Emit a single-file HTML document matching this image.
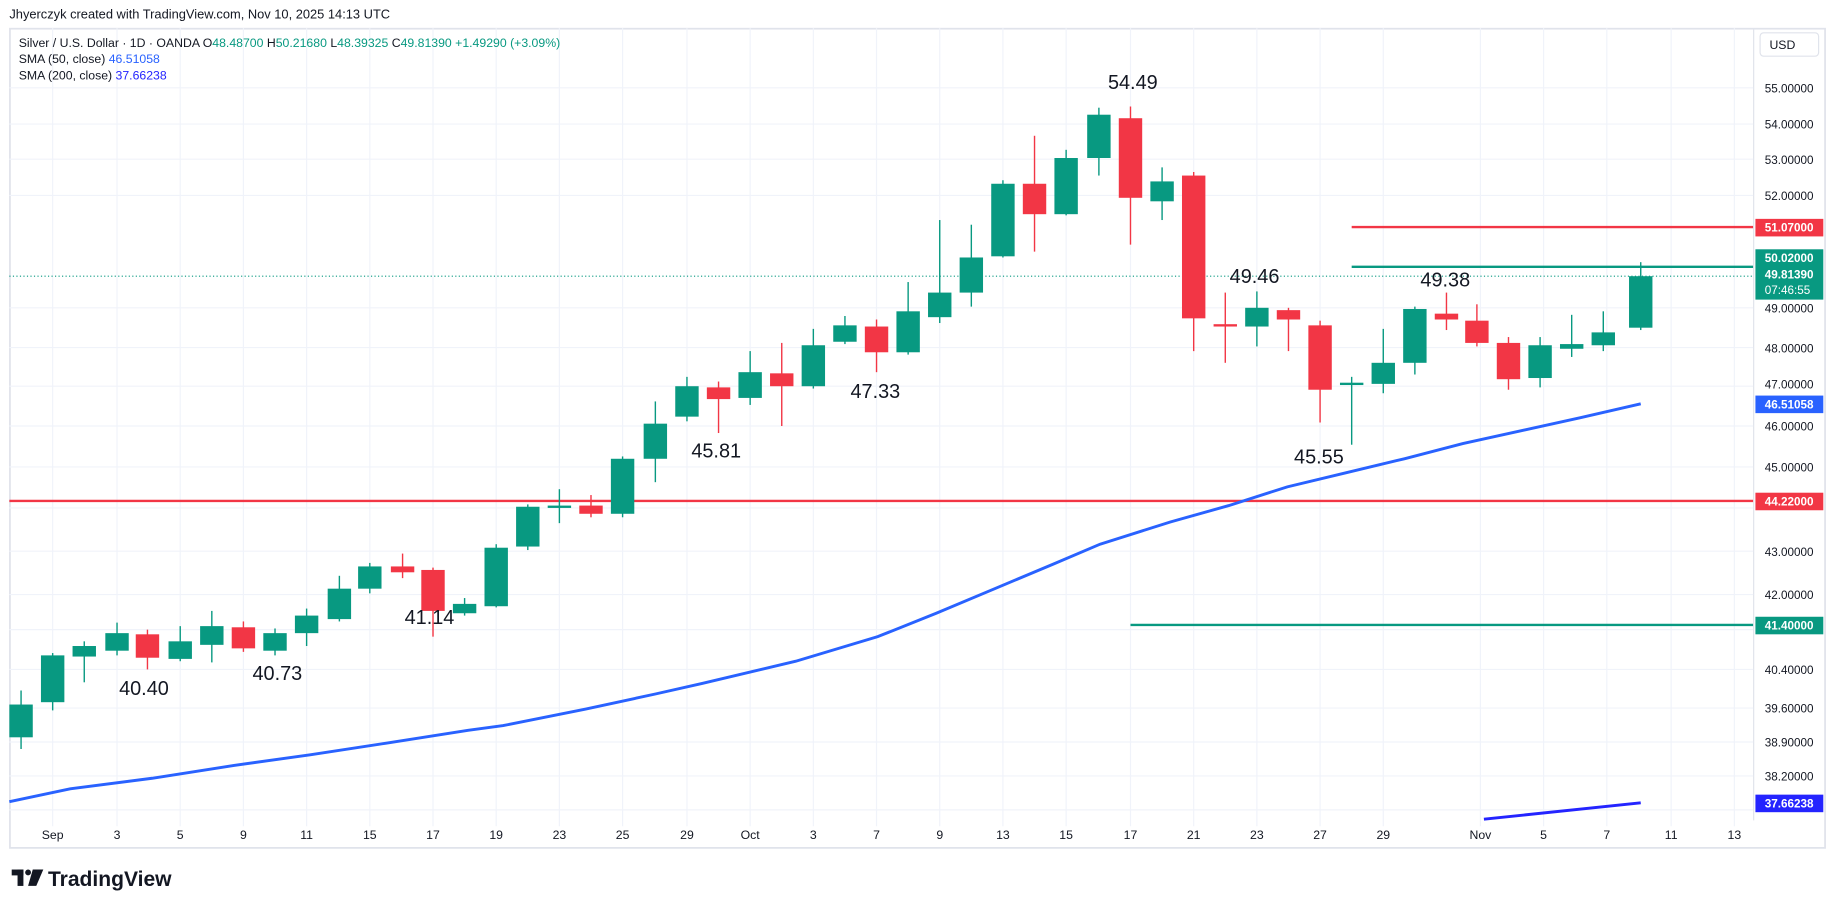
<!DOCTYPE html>
<html><head><meta charset="utf-8"><style>
html,body{margin:0;padding:0;background:#fff;}
svg{display:block;font-family:"Liberation Sans",sans-serif;}
</style></head><body>
<svg width="1835" height="909" viewBox="0 0 1568 776.7" xmlns="http://www.w3.org/2000/svg">
<rect x="0" y="0" width="1568" height="777" fill="#fff"/>
<text x="8" y="16" font-size="11" fill="#131722">Jhyerczyk created with TradingView.com, Nov 10, 2025 14:13 UTC</text>
<rect x="8.5" y="24.5" width="1551" height="700" fill="none" stroke="#e0e3eb" stroke-width="1.5"/>
<line x1="1498.5" y1="24" x2="1498.5" y2="701" stroke="#e0e3eb"/>
<g stroke="#f0f3fa" stroke-width="1">
<line x1="8" x2="1498" y1="75" y2="75"/><line x1="8" x2="1498" y1="106" y2="106"/><line x1="8" x2="1498" y1="136" y2="136"/><line x1="8" x2="1498" y1="167" y2="167"/><line x1="8" x2="1498" y1="263" y2="263"/><line x1="8" x2="1498" y1="297" y2="297"/><line x1="8" x2="1498" y1="330" y2="330"/><line x1="8" x2="1498" y1="364" y2="364"/><line x1="8" x2="1498" y1="399" y2="399"/><line x1="8" x2="1498" y1="434" y2="434"/><line x1="8" x2="1498" y1="471" y2="471"/><line x1="8" x2="1498" y1="508" y2="508"/><line x1="8" x2="1498" y1="538" y2="538"/><line x1="8" x2="1498" y1="572" y2="572"/><line x1="8" x2="1498" y1="605" y2="605"/><line x1="8" x2="1498" y1="634" y2="634"/><line x1="8" x2="1498" y1="663" y2="663"/><line x1="8" x2="1498" y1="692" y2="692"/>
<line x1="45" x2="45" y1="24" y2="706"/><line x1="100" x2="100" y1="24" y2="706"/><line x1="154" x2="154" y1="24" y2="706"/><line x1="208" x2="208" y1="24" y2="706"/><line x1="262" x2="262" y1="24" y2="706"/><line x1="316" x2="316" y1="24" y2="706"/><line x1="370" x2="370" y1="24" y2="706"/><line x1="424" x2="424" y1="24" y2="706"/><line x1="478" x2="478" y1="24" y2="706"/><line x1="532" x2="532" y1="24" y2="706"/><line x1="587" x2="587" y1="24" y2="706"/><line x1="641" x2="641" y1="24" y2="706"/><line x1="695" x2="695" y1="24" y2="706"/><line x1="749" x2="749" y1="24" y2="706"/><line x1="803" x2="803" y1="24" y2="706"/><line x1="857" x2="857" y1="24" y2="706"/><line x1="911" x2="911" y1="24" y2="706"/><line x1="966" x2="966" y1="24" y2="706"/><line x1="1020" x2="1020" y1="24" y2="706"/><line x1="1074" x2="1074" y1="24" y2="706"/><line x1="1128" x2="1128" y1="24" y2="706"/><line x1="1182" x2="1182" y1="24" y2="706"/><line x1="1265" x2="1265" y1="24" y2="706"/><line x1="1319" x2="1319" y1="24" y2="706"/><line x1="1373" x2="1373" y1="24" y2="706"/><line x1="1428" x2="1428" y1="24" y2="706"/><line x1="1482" x2="1482" y1="24" y2="706"/>
</g>
<text x="16" y="40" font-size="10.5" fill="#131722">Silver / U.S. Dollar · 1D · OANDA  O<tspan fill="#089981">48.48700</tspan>  H<tspan fill="#089981">50.21680</tspan>  L<tspan fill="#089981">48.39325</tspan>  C<tspan fill="#089981">49.81390  +1.49290 (+3.09%)</tspan></text>
<text x="16" y="54" font-size="10.5" fill="#131722">SMA (50, close)  <tspan fill="#2962ff">46.51058</tspan></text>
<text x="16" y="68" font-size="10.5" fill="#131722">SMA (200, close)  <tspan fill="#2424ff">37.66238</tspan></text>
<line x1="8" x2="1498" y1="428" y2="428" stroke="#f23645" stroke-width="2"/>
<line x1="1155" x2="1498" y1="194" y2="194" stroke="#f23645" stroke-width="2"/>
<line x1="1155" x2="1498" y1="228" y2="228" stroke="#089981" stroke-width="2"/>
<line x1="966" x2="1498" y1="534" y2="534" stroke="#089981" stroke-width="2"/>
<line x1="8" x2="1498" y1="236" y2="236" stroke="#089981" stroke-width="1" stroke-dasharray="1,2"/>
<polyline fill="none" stroke="#2962ff" stroke-width="2.5" points="8,685 60,674 130,665 200,654 265,645 330,635 400,624 430,620 500,606 560,593 600,584 680,565 750,544 800,524 850,503 900,482 940,465 1000,446 1050,432 1100,416 1150,404 1200,392 1250,379 1300,368 1350,357 1402,345"/>
<polyline fill="none" stroke="#2424ff" stroke-width="2.5" points="1268,700 1402,686"/>
<g stroke="#089981" stroke-width="1.2">
<line x1="18" x2="18" y1="590" y2="640"/><line x1="45" x2="45" y1="558" y2="607"/><line x1="72" x2="72" y1="548" y2="583"/><line x1="100" x2="100" y1="532" y2="560"/><line x1="154" x2="154" y1="535" y2="565"/><line x1="181" x2="181" y1="522" y2="566"/><line x1="235" x2="235" y1="537" y2="560"/><line x1="262" x2="262" y1="520" y2="552"/><line x1="290" x2="290" y1="492" y2="531"/><line x1="316" x2="316" y1="481" y2="507"/><line x1="397" x2="397" y1="511" y2="526"/><line x1="424" x2="424" y1="465" y2="519"/><line x1="451" x2="451" y1="431" y2="470"/><line x1="478" x2="478" y1="418" y2="447"/><line x1="532" x2="532" y1="390" y2="442"/><line x1="560" x2="560" y1="343" y2="412"/><line x1="587" x2="587" y1="322" y2="360"/><line x1="641" x2="641" y1="300" y2="346"/><line x1="695" x2="695" y1="281" y2="332"/><line x1="722" x2="722" y1="270" y2="294"/><line x1="776" x2="776" y1="241" y2="303"/><line x1="803" x2="803" y1="188" y2="276"/><line x1="830" x2="830" y1="192" y2="262"/><line x1="857" x2="857" y1="154" y2="220"/><line x1="911" x2="911" y1="128" y2="184"/><line x1="939" x2="939" y1="92" y2="150"/><line x1="993" x2="993" y1="143" y2="188"/><line x1="1074" x2="1074" y1="249" y2="296"/><line x1="1155" x2="1155" y1="322" y2="380"/><line x1="1182" x2="1182" y1="281" y2="336"/><line x1="1209" x2="1209" y1="262" y2="320"/><line x1="1316" x2="1316" y1="288" y2="331"/><line x1="1343" x2="1343" y1="269" y2="305"/><line x1="1370" x2="1370" y1="266" y2="300"/><line x1="1402" x2="1402" y1="224" y2="282"/>
</g>
<g fill="#089981">
<rect x="8" y="602" width="20" height="28"/><rect x="35" y="560" width="20" height="40"/><rect x="62" y="552" width="20" height="9"/><rect x="90" y="541" width="20" height="15"/><rect x="144" y="548" width="20" height="15"/><rect x="171" y="535" width="20" height="16"/><rect x="225" y="541" width="20" height="15"/><rect x="252" y="526" width="20" height="15"/><rect x="280" y="503" width="20" height="26"/><rect x="306" y="484" width="20" height="19"/><rect x="387" y="516" width="20" height="8"/><rect x="414" y="468" width="20" height="50"/><rect x="441" y="433" width="20" height="34"/><rect x="468" y="432" width="20" height="2"/><rect x="522" y="392" width="20" height="47"/><rect x="550" y="362" width="20" height="30"/><rect x="577" y="330" width="20" height="26"/><rect x="631" y="318" width="20" height="22"/><rect x="685" y="295" width="20" height="35"/><rect x="712" y="278" width="20" height="14"/><rect x="766" y="266" width="20" height="35"/><rect x="793" y="250" width="20" height="21"/><rect x="820" y="220" width="20" height="30"/><rect x="847" y="157" width="20" height="62"/><rect x="901" y="135" width="20" height="48"/><rect x="929" y="98" width="20" height="37"/><rect x="983" y="155" width="20" height="17"/><rect x="1064" y="263" width="20" height="16"/><rect x="1145" y="327" width="20" height="2"/><rect x="1172" y="310" width="20" height="18"/><rect x="1199" y="264" width="20" height="46"/><rect x="1306" y="295" width="20" height="28"/><rect x="1333" y="294" width="20" height="4"/><rect x="1360" y="284" width="20" height="11"/><rect x="1392" y="236" width="20" height="44"/>
</g>
<g stroke="#f23645" stroke-width="1.2">
<line x1="126" x2="126" y1="538" y2="572"/><line x1="208" x2="208" y1="531" y2="557"/><line x1="344" x2="344" y1="473" y2="494"/><line x1="370" x2="370" y1="485" y2="544"/><line x1="505" x2="505" y1="423" y2="442"/><line x1="614" x2="614" y1="326" y2="370"/><line x1="668" x2="668" y1="293" y2="364"/><line x1="749" x2="749" y1="273" y2="318"/><line x1="884" x2="884" y1="116" y2="215"/><line x1="966" x2="966" y1="91" y2="209"/><line x1="1020" x2="1020" y1="147" y2="300"/><line x1="1047" x2="1047" y1="250" y2="310"/><line x1="1101" x2="1101" y1="263" y2="300"/><line x1="1128" x2="1128" y1="274" y2="361"/><line x1="1236" x2="1236" y1="250" y2="282"/><line x1="1262" x2="1262" y1="260" y2="296"/><line x1="1289" x2="1289" y1="288" y2="333"/>
</g>
<g fill="#f23645">
<rect x="116" y="542" width="20" height="20"/><rect x="198" y="536" width="20" height="18"/><rect x="334" y="484" width="20" height="5"/><rect x="360" y="487" width="20" height="35"/><rect x="495" y="432" width="20" height="7"/><rect x="604" y="331" width="20" height="10"/><rect x="658" y="319" width="20" height="11"/><rect x="739" y="279" width="20" height="22"/><rect x="874" y="157" width="20" height="26"/><rect x="956" y="101" width="20" height="68"/><rect x="1010" y="150" width="20" height="122"/><rect x="1037" y="277" width="20" height="2"/><rect x="1091" y="265" width="20" height="8"/><rect x="1118" y="278" width="20" height="55"/><rect x="1226" y="268" width="20" height="5"/><rect x="1252" y="274" width="20" height="19"/><rect x="1279" y="293" width="20" height="31"/>
</g>
<g font-size="17" fill="#131722" text-anchor="middle">
<text x="968" y="76">54.49</text><text x="1072" y="242">49.46</text><text x="1235" y="245">49.38</text>
<text x="748" y="340">47.33</text><text x="612" y="391">45.81</text><text x="1127" y="396">45.55</text>
<text x="367" y="533">41.14</text><text x="237" y="581">40.73</text><text x="123" y="594">40.40</text>
</g>
<rect x="1504" y="28" width="50" height="20" rx="3" fill="#fff" stroke="#e0e3eb"/>
<text x="1512" y="42" font-size="10.5" fill="#131722">USD</text>
<g font-size="10" fill="#131722">
<text x="1508" y="79">55.00000</text><text x="1508" y="110">54.00000</text><text x="1508" y="140">53.00000</text><text x="1508" y="171">52.00000</text><text x="1508" y="267">49.00000</text><text x="1508" y="301">48.00000</text><text x="1508" y="332">47.00000</text><text x="1508" y="368">46.00000</text><text x="1508" y="403">45.00000</text><text x="1508" y="475">43.00000</text><text x="1508" y="512">42.00000</text><text x="1508" y="576">40.40000</text><text x="1508" y="609">39.60000</text><text x="1508" y="638">38.90000</text><text x="1508" y="667">38.20000</text>
</g>
<g font-size="10" fill="#fff" font-weight="bold">
<rect x="1500" y="187" width="58" height="15" fill="#f23645"/><text x="1508" y="198">51.07000</text>
<rect x="1500" y="213" width="58" height="43" fill="#089981"/><text x="1508" y="224">50.02000</text><text x="1508" y="238">49.81390</text><text x="1508" y="251" font-weight="normal">07:46:55</text>
<rect x="1500" y="338" width="58" height="15" fill="#2962ff"/><text x="1508" y="349">46.51058</text>
<rect x="1500" y="421" width="58" height="15" fill="#f23645"/><text x="1508" y="432">44.22000</text>
<rect x="1500" y="527" width="58" height="15" fill="#089981"/><text x="1508" y="538">41.40000</text>
<rect x="1500" y="679" width="58" height="15" fill="#2424ff"/><text x="1508" y="690">37.66238</text>
</g>
<g font-size="10.5" fill="#131722" text-anchor="middle">
<text x="45" y="717">Sep</text><text x="100" y="717">3</text><text x="154" y="717">5</text><text x="208" y="717">9</text><text x="262" y="717">11</text><text x="316" y="717">15</text><text x="370" y="717">17</text><text x="424" y="717">19</text><text x="478" y="717">23</text><text x="532" y="717">25</text><text x="587" y="717">29</text><text x="641" y="717">Oct</text><text x="695" y="717">3</text><text x="749" y="717">7</text><text x="803" y="717">9</text><text x="857" y="717">13</text><text x="911" y="717">15</text><text x="966" y="717">17</text><text x="1020" y="717">21</text><text x="1074" y="717">23</text><text x="1128" y="717">27</text><text x="1182" y="717">29</text><text x="1265" y="717">Nov</text><text x="1319" y="717">5</text><text x="1373" y="717">7</text><text x="1428" y="717">11</text><text x="1482" y="717">13</text>
</g>
<g fill="#131722">
<rect x="10" y="743" width="10" height="5"/><rect x="15" y="743" width="5" height="14"/>
<circle cx="24" cy="745.5" r="2.5"/>
<polygon points="28,743 37,743 31,757 24,757"/>
</g>
<text x="41" y="757" font-size="18" font-weight="bold" fill="#131722">TradingView</text>
</svg>
</body></html>
